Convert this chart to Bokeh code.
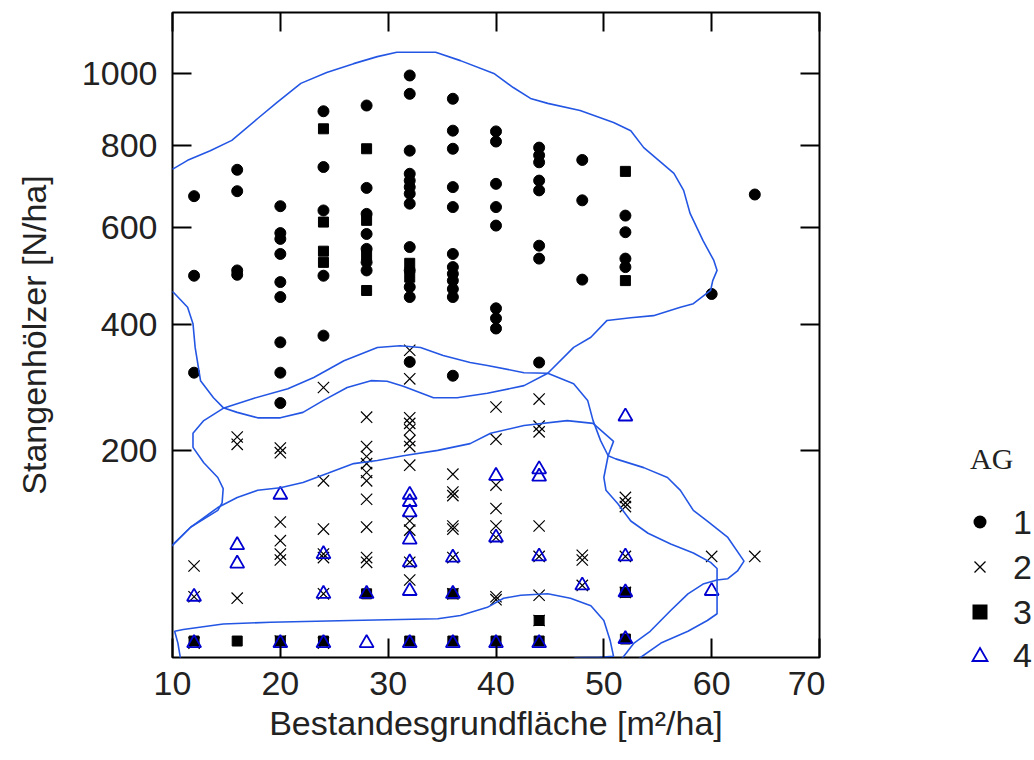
import numpy as np
from bokeh.plotting import figure
from bokeh.layouts import row
from bokeh.models import (Range1d, LinearAxis, FixedTicker, CustomJSTickFormatter, Div)
from bokeh.embed import file_html
from bokeh.resources import INLINE

# Stangenhölzer [N/ha] per Bestandesgrundfläche [m²/ha], grouped by AG
ag1 = {12: [673, 495, 315],
       16: [738, 685, 506, 497],
       20: [649, 587, 574, 541, 482, 452, 367, 315, 267],
       24: [893, 745, 639, 495, 379],
       28: [909, 693, 631, 585, 552, 523, 506],
       32: [995, 942, 787, 728, 711, 695, 679, 655, 556, 506, 472, 452, 333],
       36: [928, 840, 792, 695, 647, 541, 513, 499, 485, 468, 452, 310],
       40: [838, 811, 703, 647, 604, 430, 411, 392],
       44: [795, 775, 757, 711, 687, 559, 531, 332],
       48: [763, 663, 487],
       52: [627, 589, 531, 513],
       60: [458],
       64: [677]}

ag2 = {12: [77, 54, 27],
       16: [218, 208, 53],
       20: [203, 197, 117, 99, 87, 82, 28],
       24: [291, 162, 110, 87, 84, 56, 27],
       28: [246, 205, 192, 183, 172, 162, 141, 112, 84, 80],
       32: [353, 305, 245, 237, 228, 213, 205, 181, 118, 109, 80, 66],
       36: [170, 149, 145, 113, 110, 84, 56],
       40: [261, 215, 157, 131, 113, 102, 54, 52],
       44: [273, 233, 225, 113, 85, 55, 39],
       48: [86, 82, 62],
       52: [143, 137, 133, 85, 57],
       60: [85],
       64: [85]}

ag3 = {12: [28],
       16: [28],
       20: [28],
       24: [845, 612, 547, 523, 28],
       28: [792, 616, 538, 465, 56],
       32: [521, 492, 28],
       36: [56, 28],
       40: [28],
       44: [39, 28],
       52: [734, 485, 57, 29]}

ag4 = {12: [54, 27],
       16: [95, 79],
       20: [146, 27],
       24: [87, 56, 27],
       28: [56, 27],
       32: [146, 138, 127, 100, 80, 58, 27],
       36: [84, 56, 27],
       40: [168, 102, 27],
       44: [176, 167, 85, 27],
       48: [62],
       52: [247, 85, 57, 29],
       60: [58]}

# outlines of the AG regions (m²/ha, N/ha)
hull1_ba = [8.9, 10.1, 11.4, 13.5, 15.5, 17.9, 19.7, 21.9, 24.3, 26.8, 29.0, 30.8, 34.4,
            36.7, 39.8, 41.6, 43.2, 44.8, 47.8, 50.9, 52.5, 53.7, 56.5, 57.4, 58.0, 59.2,
            60.2, 60.5, 60.1, 59.9, 58.3, 57.1, 54.6, 52.5, 50.3, 48.8, 47.2, 44.8, 42.6,
            39.2, 36.4, 34.2, 31.4, 29.9, 28.4, 26.2, 24.0, 22.1, 20.0, 17.9, 16.0, 14.7,
            13.8, 12.6, 12.1, 11.9, 11.4, 10.1, 8.9]
hull1_n = [736, 741, 762, 787, 814, 873, 918, 972, 1004, 1030, 1051, 1064, 1064,
           1039, 1001, 960, 929, 915, 895, 862, 840, 795, 729, 687, 632, 570,
           527, 506, 485, 465, 439, 432, 416, 412, 407, 376, 358, 314, 294,
           282, 275, 275, 293, 301, 302, 291, 271, 253, 245, 245, 253, 260,
           275, 302, 358, 401, 432, 461, 475]

hull2a_ba = [44.8, 42.6, 39.2, 37.6, 35.1, 33.0, 31.1, 29.0, 25.9, 23.1, 20.7, 17.5, 14.7,
             12.9, 11.9, 11.9, 12.9, 14.2, 14.7, 14.6, 14.2, 11.7, 10.0, 8.9]
hull2a_n = [314, 315, 327, 332, 344, 358, 361, 358, 335, 307, 289, 274, 259,
            241, 223, 204, 184, 166, 153, 137, 129, 112, 95, 85]

hull2b_ba = [44.8, 47.2, 48.5, 49.0, 49.7, 50.4, 51.1, 53.7, 55.9, 57.1, 58.3, 59.6, 61.5,
             63.0, 62.4, 61.5, 60.5, 59.2, 57.8, 56.2, 54.3, 52.8, 51.5]
hull2b_n = [314, 297, 271, 241, 213, 193, 189, 178, 166, 151, 129, 118, 102,
            81, 73, 67, 66, 63, 56, 45, 33, 27, 19]

hull4_ba = [8.9, 10.0, 11.7, 14.2, 16.0, 17.9, 20.0, 22.1, 24.4, 26.8, 29.0, 31.4, 34.6,
            37.6, 39.5, 42.6, 46.6, 49.0, 50.9, 50.4, 50.0, 50.2, 51.3, 52.5, 54.1, 56.2,
            58.3, 59.9, 60.5, 60.5, 60.5, 59.6, 57.8, 55.3, 53.4, 52.0]
hull4_n = [85, 95, 112, 132, 143, 151, 154, 160, 171, 183, 187, 193, 200,
           209, 223, 234, 241, 237, 212, 193, 166, 151, 136, 118, 106, 96,
           88, 80, 75, 63, 43, 39, 33, 27, 20.5, 16]

hull3_ba = [10.9, 10.5, 10.2, 11.0, 14.7, 19.1, 26.5, 34.6, 36.7, 39.2, 40.7, 42.3, 44.8,
            46.9, 48.8, 50.0, 50.6, 50.9, 49.6, 47.4, 45.5]
hull3_n = [16, 27, 33, 34, 37, 38, 39, 40, 42, 47, 53, 55, 56,
           53, 48, 39, 28, 21, 20.6, 20.4, 17]

x_ticks = [10, 20, 30, 40, 50, 60, 70]
y_ticks = [200, 400, 600, 800, 1000]
groups = ["1", "2", "3", "4"]

FONT = "Liberation Sans"
TEXT = "#222222"
BLUE_LINE = "#2456e4"
BLUE_MARK = "#0000d0"

# one marker style per AG
styles = {
    "1": dict(marker="circle", size=11, fill_color="black", line_color="black"),
    "2": dict(marker="x", size=16, line_color="black", line_width=1.2),
    "3": dict(marker="square", size=10, fill_color="black", line_color="black"),
    "4": dict(marker="triangle", size=14, fill_color=None, line_color=BLUE_MARK, line_width=1.8),
}


def expand(groups_):
    xs, ys = [], []
    for ba, values in groups_.items():
        for v in values:
            xs.append(ba)
            ys.append(np.sqrt(v))
    return xs, ys


p = figure(width=825, height=760, output_backend="svg", toolbar_location=None,
           x_range=Range1d(10, 70), y_range=Range1d(np.sqrt(20.5), np.sqrt(1188)),
           x_axis_location=None, y_axis_location=None,
           min_border_left=172, min_border_right=6, min_border_top=12,
           min_border_bottom=103)
p.grid.visible = False
p.outline_line_color = "black"
p.outline_line_width = 2
p.background_fill_color = "white"
p.border_fill_color = "white"

sqrt_fmt = CustomJSTickFormatter(code="return Math.round(tick*tick).toString();")
blank_fmt = CustomJSTickFormatter(code="return '';")


def style_axis(ax, labels):
    ax.axis_line_color = None
    ax.major_tick_in = 19
    ax.major_tick_out = 0
    ax.major_tick_line_width = 2
    ax.major_tick_line_color = "black"
    ax.minor_tick_line_color = None
    if labels:
        ax.major_label_text_font = FONT
        ax.major_label_text_font_size = "34px"
        ax.major_label_text_color = TEXT
        ax.axis_label_text_font = FONT
        ax.axis_label_text_font_size = "34px"
        ax.axis_label_text_font_style = "normal"
        ax.axis_label_text_color = TEXT
    else:
        ax.formatter = blank_fmt
        ax.major_label_standoff = 0


xb = LinearAxis(ticker=FixedTicker(ticks=x_ticks), axis_label="Bestandesgrundfläche [m²/ha]")
style_axis(xb, True)
xb.major_label_standoff = 14
xb.axis_label_standoff = 6
p.add_layout(xb, "below")

yl = LinearAxis(ticker=FixedTicker(ticks=[float(np.sqrt(t)) for t in y_ticks]),
                formatter=sqrt_fmt, axis_label="Stangenhölzer [N/ha]")
style_axis(yl, True)
yl.major_label_standoff = 15
yl.axis_label_standoff = 26
p.add_layout(yl, "left")

xt = LinearAxis(ticker=FixedTicker(ticks=x_ticks))
style_axis(xt, False)
p.add_layout(xt, "above")

yr = LinearAxis(ticker=FixedTicker(ticks=[float(np.sqrt(t)) for t in y_ticks]))
style_axis(yr, False)
p.add_layout(yr, "right")

# points, AG 1 to 4
for g, data in zip(groups, [ag1, ag2, ag3, ag4]):
    xs, ys = expand(data)
    p.scatter(xs, ys, **styles[g])

# region outlines
for hx, hy in [(hull1_ba, hull1_n), (hull2a_ba, hull2a_n), (hull2b_ba, hull2b_n),
               (hull4_ba, hull4_n), (hull3_ba, hull3_n)]:
    p.line(hx, np.sqrt(hy), line_color=BLUE_LINE, line_width=1.6)


# key beside the plot, drawn as a small inline SVG
def key_symbol(g, cx, cy):
    if g == "1":
        return f'<circle cx="{cx}" cy="{cy}" r="6.5" fill="black"/>'
    if g == "2":
        d = 5.5
        return (f'<path d="M{cx-d},{cy-d}L{cx+d},{cy+d}M{cx-d},{cy+d}L{cx+d},{cy-d}" '
                f'stroke="black" stroke-width="1.3" fill="none"/>')
    if g == "3":
        return f'<rect x="{cx-7.5}" y="{cy-7.5}" width="15" height="15" fill="black"/>'
    return (f'<polygon points="{cx},{cy-7} {cx+7.5},{cy+6} {cx-7.5},{cy+6}" '
            f'stroke="{BLUE_MARK}" stroke-width="1.8" fill="none"/>')


key_x, label_x = 155, 188
row_y = {"1": 522, "2": 567, "3": 612, "4": 655}
serif_css = "font-family:'Liberation Serif',serif;font-size:30px;"
sans_css = f"font-family:'{FONT}',sans-serif;font-size:34px;"
parts = ['<svg xmlns="http://www.w3.org/2000/svg" width="209" height="760" '
         'style="display:block">',
         f'<text x="145" y="469" style="{serif_css}" fill="{TEXT}">AG</text>']
for g in groups:
    cy = row_y[g]
    parts.append(key_symbol(g, key_x, cy))
    parts.append(f'<text x="{label_x}" y="{cy + 12}" style="{sans_css}" '
                 f'fill="{TEXT}">{g}</text>')
parts.append('</svg>')
key = Div(text="".join(parts), width=209, height=760, margin=0)

open("out.html", "w").write(file_html(row(p, key), INLINE))
